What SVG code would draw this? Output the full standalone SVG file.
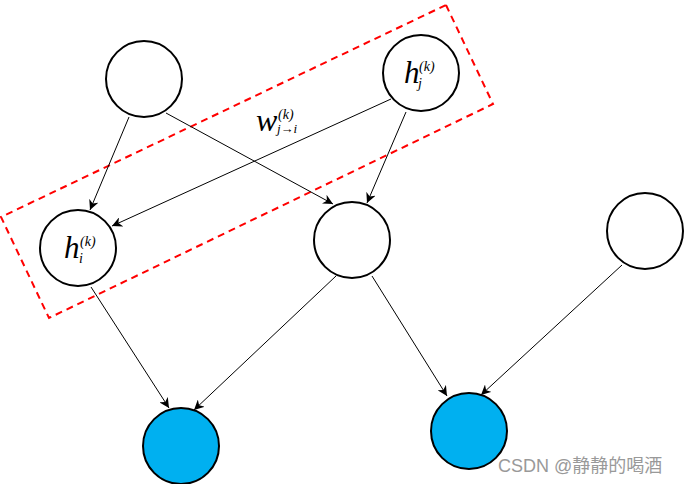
<svg xmlns="http://www.w3.org/2000/svg" width="685" height="484" viewBox="0 0 685 484">
<style>
.n{fill:#fff;stroke:#000;stroke-width:2}
.b{fill:#00B0F0;stroke:#000;stroke-width:2}
.e{stroke:#000;stroke-width:1;fill:none;marker-end:url(#ah)}
.m{font-family:"Liberation Serif","DejaVu Serif",serif;font-style:italic;fill:#000}
</style>
<defs>
<marker id="ah" viewBox="0 0 10 10" refX="10" refY="5" markerWidth="10" markerHeight="10" markerUnits="userSpaceOnUse" orient="auto">
<path d="M0,0 L10,5 L0,10 L3,5 Z" fill="#000"/>
</marker>
</defs>
<rect width="685" height="484" fill="#fff"/>
<polygon points="446,5 493,104 49,318 1,217" fill="none" stroke="#FF0000" stroke-width="2" stroke-dasharray="7,5"/>
<g id="edges">
<line class="e" x1="129" y1="117" x2="90" y2="210"/>
<line class="e" x1="166" y1="113" x2="333" y2="204"/>
<line class="e" x1="391" y1="99" x2="112" y2="226"/>
<line class="e" x1="406" y1="112" x2="367" y2="203"/>
<line class="e" x1="91" y1="287" x2="169" y2="408"/>
<line class="e" x1="336" y1="276" x2="194" y2="410"/>
<line class="e" x1="372" y1="276" x2="447" y2="396"/>
<line class="e" x1="622" y1="265" x2="481" y2="395"/>
</g>
<g id="n1"><circle class="n" cx="144" cy="79" r="38"/></g>
<g id="hj"><circle class="n" cx="421" cy="73" r="38"/>
<text class="m" x="404" y="83" font-size="31">h</text>
<text class="m" x="418" y="88" font-size="14">j</text>
<text class="m" x="419" y="71" font-size="14">(k)</text></g>
<g id="hi"><circle class="n" cx="78" cy="248" r="38"/>
<text class="m" x="64" y="258" font-size="31">h</text>
<text class="m" x="79" y="263" font-size="14">i</text>
<text class="m" x="80" y="246" font-size="14">(k)</text></g>
<g id="n4"><circle class="n" cx="352" cy="240" r="38"/></g>
<g id="n5"><circle class="n" cx="645" cy="231" r="38"/></g>
<g id="b1"><circle class="b" cx="181" cy="446" r="38"/></g>
<g id="b2"><circle class="b" cx="469" cy="431" r="38"/></g>
<g id="label">
<text class="m" x="256" y="131" font-size="32">w</text>
<text class="m" x="278" y="119" font-size="14">(k)</text>
<text class="m" x="277" y="133" font-size="13">j→i</text>
</g>
<text x="498" y="472" font-family="'Liberation Sans','Noto Sans CJK SC',sans-serif" font-size="18" fill="#999">CSDN @静静的喝酒</text>
</svg>
